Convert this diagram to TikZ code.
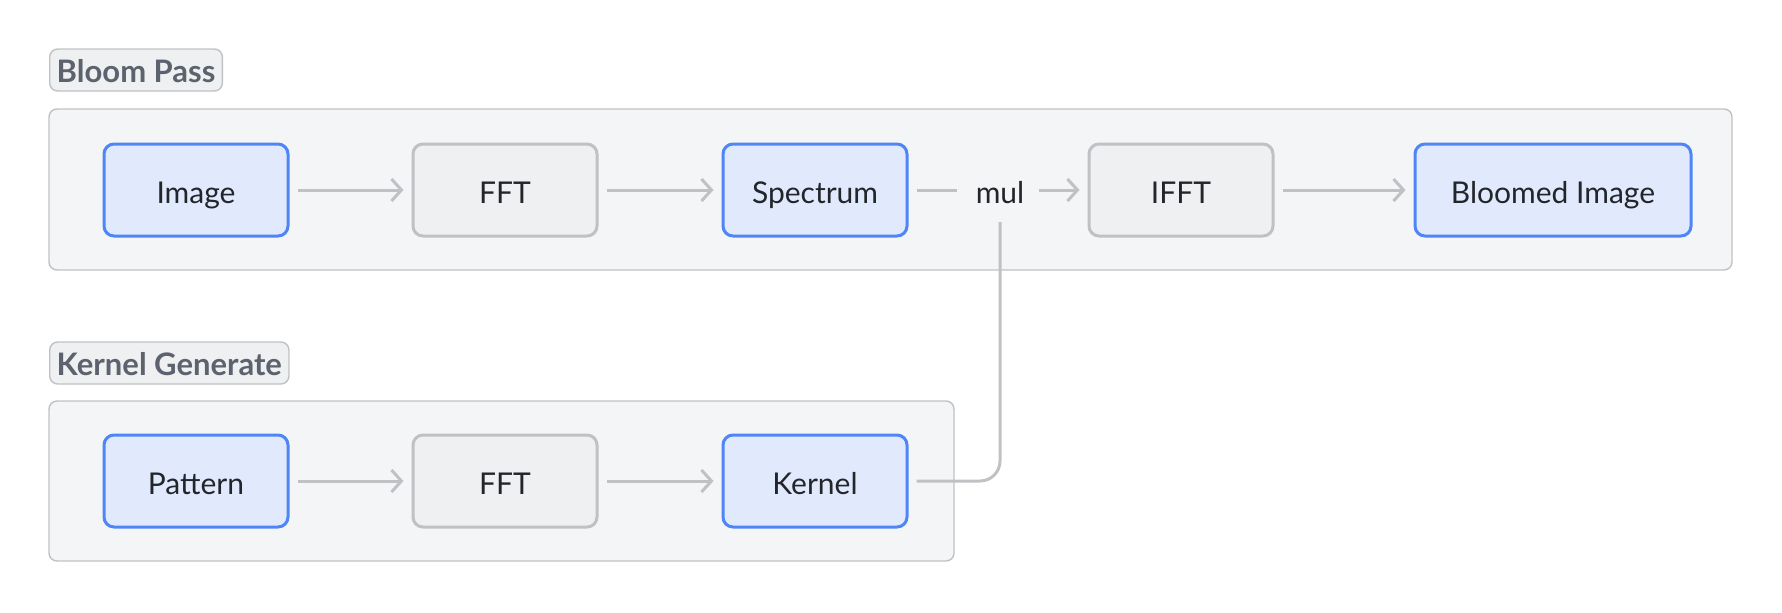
\documentclass[tikz,border=0pt]{standalone}
\usepackage{fontspec}
\setmainfont{Lato}
\usetikzlibrary{arrows.meta}
\definecolor{bluefill}{HTML}{E1EAFD}
\definecolor{blueline}{HTML}{4F86F7}
\definecolor{grayfill}{HTML}{EFF0F2}
\definecolor{grayline}{HTML}{C0C1C4}
\definecolor{groupfill}{HTML}{F4F5F7}
\definecolor{labeltext}{HTML}{5C636E}
\definecolor{nodetext}{HTML}{22252A}
\tikzset{
  box/.style={rounded corners=5pt, line width=1.5pt, minimum height=46pt,
    minimum width=92pt, font=\fontsize{15}{17}\selectfont, text=nodetext,
    text height=13pt, text depth=0pt},
  bluebox/.style={box, draw=blueline, fill=bluefill},
  graybox/.style={box, draw=grayline, fill=grayfill},
  group/.style={rounded corners=4pt, draw=grayline, fill=groupfill, line width=0.7pt},
  grouplabel/.style={rounded corners=4pt, draw=grayline, fill=grayfill, line width=0.7pt,
    text=labeltext, font=\bfseries\fontsize{15.5}{17}\selectfont, inner xsep=3.5pt,
    minimum height=21pt, text height=12.5pt, text depth=0.5pt, anchor=west},
  flow/.style={draw=grayline, line width=1.5pt, shorten >=4pt, shorten <=4pt,
    -{Straight Barb[length=5pt, width=11pt, line width=1.5pt]}},
  plain/.style={draw=grayline, line width=1.5pt, shorten <=4pt},
}
\begin{document}
\begin{tikzpicture}[x=0.5pt, y=-0.5pt]
\useasboundingbox (0,0) rectangle (1782,612);
% Bloom Pass group
\draw[group] (49,109) rectangle (1732,270);
\node[grouplabel] (bloomlbl) at (49,70) {Bloom Pass};
\node[bluebox] (image) at (196,190) {Image};
\node[graybox] (fft1) at (505,190) {FFT};
\node[bluebox] (spectrum) at (815,190) {Spectrum};
\node[font=\fontsize{15}{17}\selectfont, text=nodetext, text height=13pt, text depth=0pt] (mul) at (1000,190) {mul};
\node[graybox] (ifft) at (1181,190) {IFFT};
\node[bluebox, minimum width=138pt] (bloomed) at (1553,190) {Bloomed Image};
% Kernel Generate group
\draw[group] (49,401) rectangle (954,561);
\node[grouplabel] (kernlbl) at (49,363) {Kernel Generate};
\node[bluebox] (pattern) at (196,481) {Pattern};
\node[graybox] (fft2) at (505,481) {FFT};
\node[bluebox] (kernel) at (815,481) {Kernel};
% connectors
\draw[flow] (image) -- (fft1);
\draw[flow] (fft1) -- (spectrum);
\draw[plain, shorten >=6pt] (spectrum) -- (mul);
\draw[flow, shorten <=4pt] (mul) -- (ifft);
\draw[flow] (ifft) -- (bloomed);
\draw[flow] (pattern) -- (fft2);
\draw[flow] (fft2) -- (kernel);
\draw[plain, rounded corners=10pt, shorten >=6pt] (kernel.east) -| (mul.south);
\end{tikzpicture}
\end{document}
